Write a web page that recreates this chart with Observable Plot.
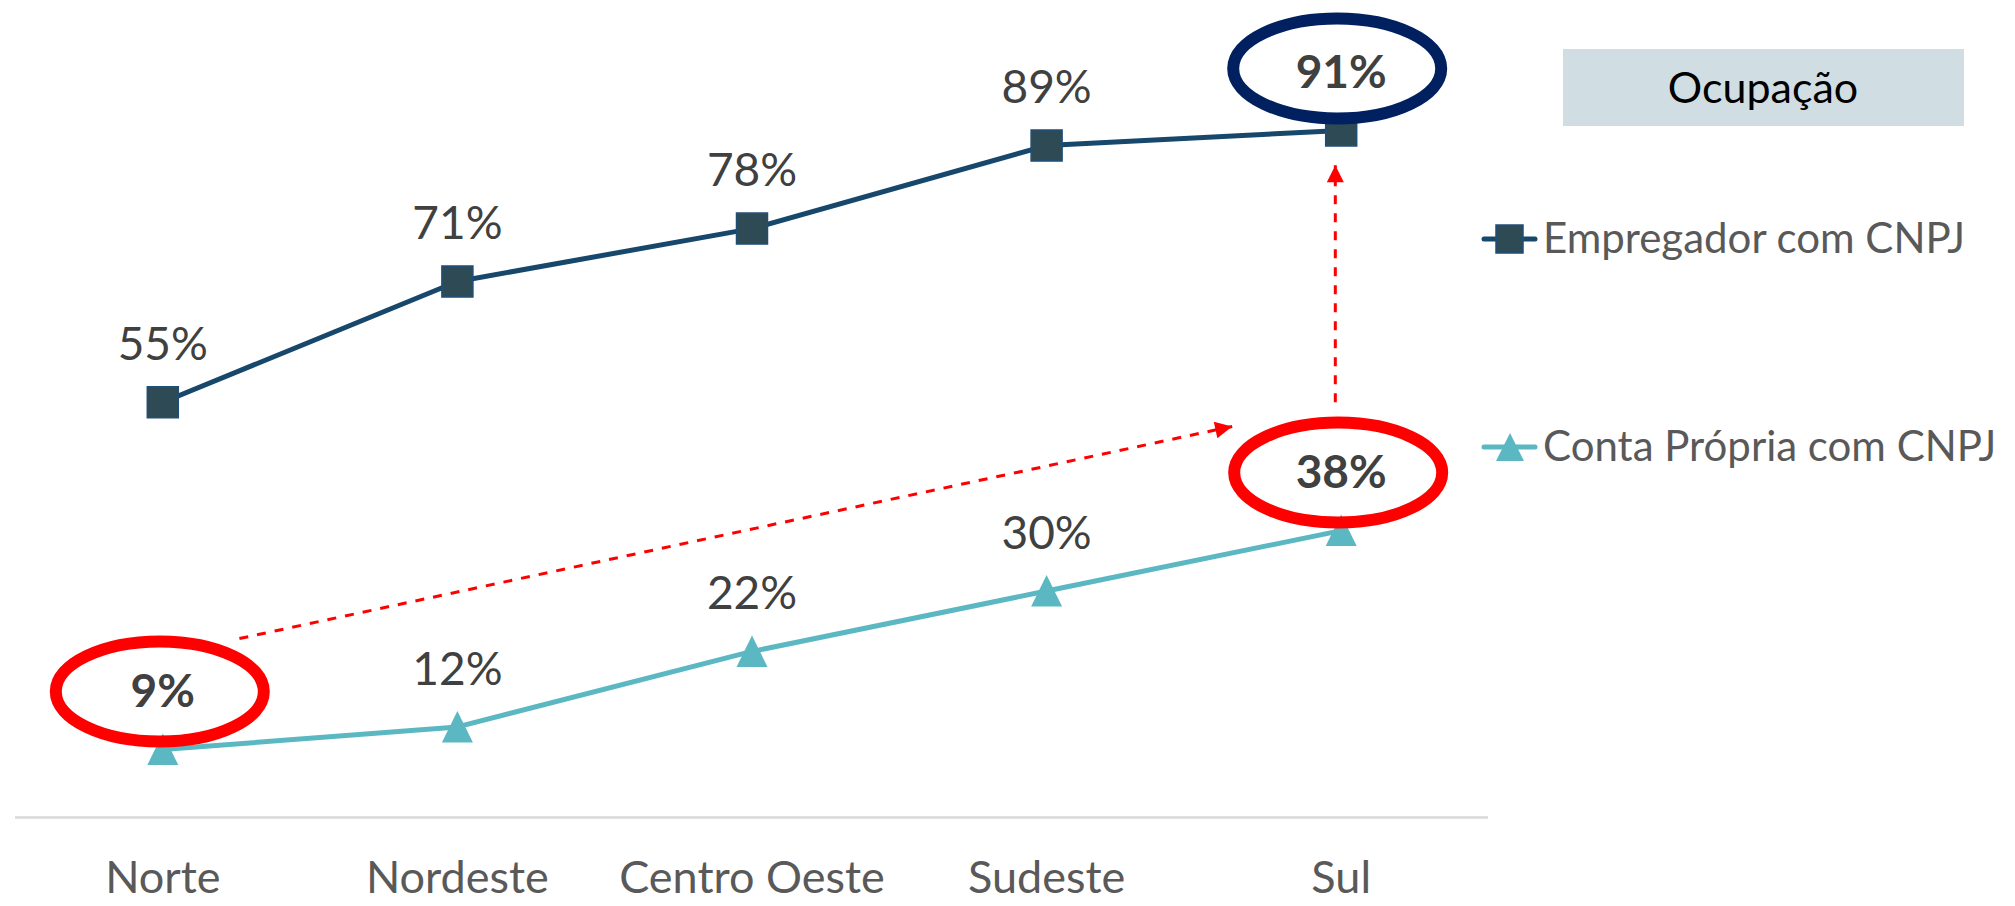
<!DOCTYPE html>
<html>
<head>
<meta charset="utf-8">
<script src="https://cdn.jsdelivr.net/npm/d3@7"></script>
<script src="https://cdn.jsdelivr.net/npm/@observablehq/plot@0.6"></script>
<style>
  html, body { margin: 0; padding: 0; background: #ffffff; }
  #wrap { position: relative; width: 2015px; height: 906px; overflow: hidden; background: #ffffff; }
  #wrap > svg { position: absolute; left: 0; top: 0; }
</style>
</head>
<body>
<div id="wrap"></div>
<script>
// ---------------- data ----------------
const regions = ["Norte", "Nordeste", "Centro Oeste", "Sudeste", "Sul"];
const seriesNames = ["Empregador com CNPJ", "Conta Própria com CNPJ"];
const empregador = [55, 71, 78, 89, 91];
const contaPropria = [9, 12, 22, 30, 38];
const legendTitle = "Ocupação";
// highlighted (circled) values
const highlights = [
  { series: "Conta Própria com CNPJ", region: "Norte" },
  { series: "Conta Própria com CNPJ", region: "Sul" },
  { series: "Empregador com CNPJ", region: "Sul" }
];
// dashed annotation arrows, in data units (x = region index, y = percent)
const arrows = [
  { x1: 0.26, y1: 23.7, x2: 3.63, y2: 51.8 },
  { x1: 3.98, y1: 55.0, x2: 3.98, y2: 86.4 }
];

// ---------------- layout / styles ----------------
const W = 2015, H = 906;
const mL = 15, mR = 527, mT = 62, mB = 89;
const colEmp = "#17476B", colEmpMarker = "#2E4A54", colEmpMarkerStroke = "#1F4E79";
const colConta = "#5BB8C2";
const colLabel = "#404040", colTick = "#595959";
const colRed = "#FF0000", colNavy = "#002060";
const FONT = "Lato, 'Open Sans', sans-serif";

const rows = regions.flatMap((r, i) => [
  { region: r, i, series: seriesNames[0], value: empregador[i] },
  { region: r, i, series: seriesNames[1], value: contaPropria[i] }
]);
const isHi = d => highlights.some(h => h.series === d.series && h.region === d.region);
const empRows = rows.filter(d => d.series === seriesNames[0]);
const contaRows = rows.filter(d => d.series === seriesNames[1]);
const hiRows = rows.filter(isHi);

// ---------------- symbols ----------------
const HS = 15.5;
const squareSym = { draw(c) { c.moveTo(-HS, -HS); c.lineTo(HS, -HS); c.lineTo(HS, HS); c.lineTo(-HS, HS); c.closePath(); } };
const triangleSym = { draw(c) { c.moveTo(0, -16); c.lineTo(HS, HS); c.lineTo(-HS, HS); c.closePath(); } };
const RX = 104, RY = 50, K = 0.5523;
const ellipseSym = { draw(c) {
  c.moveTo(RX, 0);
  c.bezierCurveTo(RX, RY * K, RX * K, RY, 0, RY);
  c.bezierCurveTo(-RX * K, RY, -RX, RY * K, -RX, 0);
  c.bezierCurveTo(-RX, -RY * K, -RX * K, -RY, 0, -RY);
  c.bezierCurveTo(RX * K, -RY, RX, -RY * K, RX, 0);
  c.closePath();
} };
const headSym = { draw(c) { c.moveTo(0, 0); c.lineTo(8.5, 17); c.lineTo(-8.5, 17); c.closePath(); } };

const xDomain = [-0.5, regions.length - 0.5];
const yDomain = [0, 100];
const xs = d3.scaleLinear(xDomain, [mL, W - mR]);
const ys = d3.scaleLinear(yDomain, [H - mB, mT]);
const headAngle = d => Math.atan2(xs(d.x2) - xs(d.x1), -(ys(d.y2) - ys(d.y1))) * 180 / Math.PI;

const chart = Plot.plot({
  width: W, height: H,
  marginLeft: mL, marginRight: mR, marginTop: mT, marginBottom: mB,
  style: { fontFamily: FONT, fontSize: "45px", color: colTick, background: "transparent", overflow: "visible" },
  x: { domain: xDomain, ticks: regions.map((_, i) => i), tickFormat: i => regions[i], tickSize: 0, tickPadding: 44, label: null },
  y: { domain: yDomain, axis: null },
  marks: [
    Plot.ruleY([0], { stroke: "#D9D9D9", strokeWidth: 2.5 }),
    Plot.line(empRows, { x: "i", y: "value", stroke: colEmp, strokeWidth: 5 }),
    Plot.line(contaRows, { x: "i", y: "value", stroke: colConta, strokeWidth: 5 }),
    Plot.dot(empRows, { x: "i", y: "value", symbol: squareSym, fill: colEmpMarker, stroke: colEmpMarkerStroke, strokeWidth: 1.5 }),
    Plot.dot(contaRows, { x: "i", y: "value", symbol: triangleSym, fill: colConta, stroke: "none" }),
    Plot.text(rows.filter(d => !isHi(d)), { x: "i", y: "value", text: d => d.value + "%", dy: -57, fontSize: 46, fill: colLabel }),
    Plot.text(hiRows, { x: "i", y: "value", text: d => d.value + "%", dy: -57, fontSize: 46, fontWeight: "bold", fill: colLabel }),
    Plot.dot(hiRows.filter(d => d.series === seriesNames[1]), { x: "i", y: "value", dx: -3, dy: -58, symbol: ellipseSym, fill: "none", stroke: colRed, strokeWidth: 12 }),
    Plot.dot(hiRows.filter(d => d.series === seriesNames[0]), { x: "i", y: "value", dx: -4, dy: -62, symbol: ellipseSym, fill: "none", stroke: colNavy, strokeWidth: 12 }),
    Plot.link(arrows, { x1: "x1", y1: "y1", x2: "x2", y2: "y2", stroke: colRed, strokeWidth: 3, strokeDasharray: "9,9" }),
    Plot.dot(arrows, { x: "x2", y: "y2", symbol: headSym, rotate: headAngle, fill: colRed, stroke: "none" })
  ]
});
document.getElementById("wrap").appendChild(chart);

// ---------------- legend (overlay) ----------------
const lg = d3.select("#wrap").append("svg")
  .attr("width", W).attr("height", H)
  .style("font-family", FONT);
lg.append("rect").attr("x", 1563).attr("y", 49).attr("width", 401).attr("height", 77).attr("fill", "#D0DEE3");
lg.append("text").attr("x", 1763).attr("y", 103).attr("text-anchor", "middle")
  .attr("font-size", 43).attr("fill", "#000000").text(legendTitle);

const items = [
  { name: seriesNames[0], cy: 239, stroke: colEmp, sym: "square" },
  { name: seriesNames[1], cy: 447, stroke: colConta, sym: "triangle" }
];
items.forEach(it => {
  const g = lg.append("g");
  g.append("line").attr("x1", 1484).attr("x2", 1535).attr("y1", it.cy).attr("y2", it.cy)
    .attr("stroke", it.stroke).attr("stroke-width", 5).attr("stroke-linecap", "round");
  if (it.sym === "square") {
    g.append("rect").attr("x", 1496).attr("y", it.cy - 14).attr("width", 27).attr("height", 28)
      .attr("fill", colEmpMarker).attr("stroke", colEmpMarkerStroke).attr("stroke-width", 1.5);
  } else {
    g.append("path").attr("d", `M1510,${it.cy - 14}L1524,${it.cy + 14}L1496,${it.cy + 14}Z`).attr("fill", colConta);
  }
  g.append("text").attr("x", 1543).attr("y", it.cy + 14).attr("font-size", 42).attr("fill", colTick).text(it.name);
});
</script>
</body>
</html>
